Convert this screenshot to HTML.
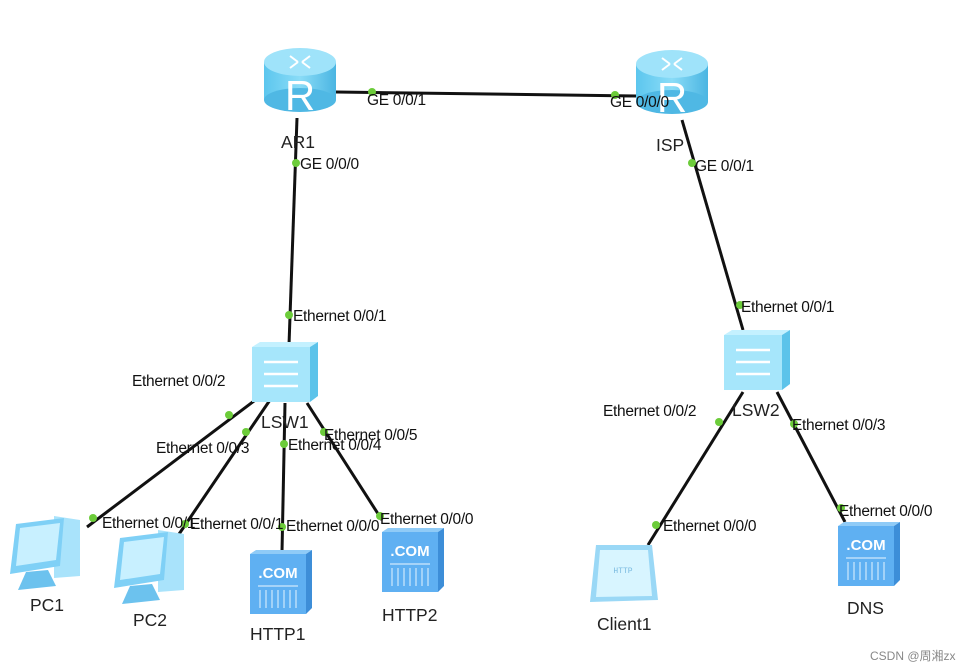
<!DOCTYPE html>
<html><head><meta charset="utf-8"><style>
html,body{margin:0;padding:0;background:#fff;}
svg{display:block;font-family:"Liberation Sans",Arial,sans-serif;}
.l{font-size:15.5px;fill:#111;letter-spacing:-0.3px;}
.n{font-size:17.5px;fill:#222;}
</style></head><body>
<svg width="977" height="671" viewBox="0 0 977 671">
<defs>
<linearGradient id="rg" x1="0" x2="1"><stop offset="0" stop-color="#5cc6ee"/><stop offset="0.5" stop-color="#8adcf7"/><stop offset="1" stop-color="#4bb5e2"/></linearGradient>
<g id="router">
<rect x="-36" y="-22" width="72" height="38" fill="url(#rg)"/>
<ellipse cx="0" cy="16" rx="36" ry="12" fill="#4fb8e4"/>
<ellipse cx="0" cy="-22" rx="36" ry="14" fill="#9fe3fa"/>
<text x="0" y="26" text-anchor="middle" font-size="42" fill="#fff">R</text>
<path d="M-10 -28 l8 6 M10 -28 l-8 6 M-10 -16 l8 -6 M10 -16 l-8 -6" stroke="#fff" stroke-width="2"/>
</g>
<g id="switch">
<rect x="0" y="5" width="58" height="55" fill="#a6e6fb"/>
<path d="M0 5 L8 0 L66 0 L58 5Z" fill="#c4f1ff"/>
<path d="M58 5 L66 0 L66 54 L58 60Z" fill="#5cc3ea"/>
<path d="M12 20 H46 M12 32 H46 M12 44 H46" stroke="#fff" stroke-width="2.5"/>
</g>
<g id="server">
<rect x="0" y="4" width="56" height="60" fill="#5fb0f2"/>
<path d="M0 4 L6 0 L62 0 L56 4Z" fill="#8fcbf7"/>
<path d="M56 4 L62 0 L62 58 L56 64Z" fill="#3d8ed8"/>
<text x="28" y="28" text-anchor="middle" font-size="15" font-weight="bold" fill="#fff">.COM</text>
<path d="M8 36 H48 M10 40 V58 M16 40 V58 M22 40 V58 M28 40 V58 M34 40 V58 M40 40 V58 M46 40 V58" stroke="#cfe8fc" stroke-width="1.2"/>
</g>
<g id="pc">
<path d="M46 0 L72 4 L72 60 L46 62Z" fill="#a9e3fb"/>
<path d="M8 8 L56 2 L52 50 L2 58Z" fill="#7fd0f6"/>
<path d="M12 12 L52 7 L48 44 L8 50Z" fill="#c8f0ff"/>
<path d="M18 56 L40 54 L48 70 L10 74Z" fill="#6cc2ee"/>
</g>
</defs>

<g stroke="#111" stroke-width="3" fill="none">
<line x1="336" y1="92" x2="636" y2="96"/>
<line x1="297" y1="118" x2="289" y2="345"/>
<line x1="682" y1="120" x2="743" y2="330"/>
<line x1="258" y1="398" x2="87" y2="527"/>
<line x1="270" y1="400" x2="175" y2="540"/>
<line x1="285" y1="403" x2="282" y2="552"/>
<line x1="307" y1="403" x2="382" y2="520"/>
<line x1="743" y1="392" x2="648" y2="545"/>
<line x1="777" y1="392" x2="845" y2="522"/>
</g>

<use href="#router" x="300" y="84"/>
<use href="#router" x="672" y="86"/>
<use href="#switch" x="252" y="342"/>
<use href="#switch" x="724" y="330"/>
<use href="#pc" x="8" y="516"/>
<use href="#pc" x="112" y="530"/>
<use href="#server" x="250" y="550"/>
<use href="#server" x="382" y="528"/>
<use href="#server" x="838" y="522"/>
<g>
<path d="M596 545 L652 545 L658 600 L590 602Z" fill="#9ad8f6"/>
<path d="M600 550 L648 550 L652 596 L596 597Z" fill="#d8f5ff"/>
<text x="623" y="573" text-anchor="middle" font-size="8" fill="#7bbbe0" font-family="Liberation Mono">HTTP</text>
</g>

<g fill="#6ccc3a">
<circle cx="372" cy="92" r="4"/><circle cx="615" cy="95" r="4"/>
<circle cx="296" cy="163" r="4"/><circle cx="289" cy="315" r="4"/>
<circle cx="692" cy="163" r="4"/><circle cx="740" cy="305" r="4"/>
<circle cx="229" cy="415" r="4"/><circle cx="93" cy="518" r="4"/>
<circle cx="246" cy="432" r="4"/><circle cx="185" cy="524" r="4"/>
<circle cx="284" cy="444" r="4"/><circle cx="282" cy="527" r="4"/>
<circle cx="324" cy="432" r="4"/><circle cx="380" cy="516" r="4"/>
<circle cx="719" cy="422" r="4"/><circle cx="656" cy="525" r="4"/>
<circle cx="794" cy="424" r="4"/><circle cx="841" cy="508" r="4"/>
</g>

<g class="l">
<text x="367" y="105">GE 0/0/1</text>
<text x="610" y="107">GE 0/0/0</text>
<text x="300" y="169">GE 0/0/0</text>
<text x="695" y="171">GE 0/0/1</text>
<text x="293" y="321">Ethernet 0/0/1</text>
<text x="741" y="312">Ethernet 0/0/1</text>
<text x="132" y="386">Ethernet 0/0/2</text>
<text x="156" y="453">Ethernet 0/0/3</text>
<text x="288" y="450">Ethernet 0/0/4</text>
<text x="324" y="440">Ethernet 0/0/5</text>
<text x="102" y="528">Ethernet 0/0/1</text>
<text x="190" y="529">Ethernet 0/0/1</text>
<text x="286" y="531">Ethernet 0/0/0</text>
<text x="380" y="524">Ethernet 0/0/0</text>
<text x="603" y="416">Ethernet 0/0/2</text>
<text x="792" y="430">Ethernet 0/0/3</text>
<text x="663" y="531">Ethernet 0/0/0</text>
<text x="839" y="516">Ethernet 0/0/0</text>
</g>
<g class="n">
<text x="281" y="148">AR1</text>
<text x="656" y="151">ISP</text>
<text x="261" y="428">LSW1</text>
<text x="732" y="416">LSW2</text>
<text x="30" y="611">PC1</text>
<text x="133" y="626">PC2</text>
<text x="250" y="640">HTTP1</text>
<text x="382" y="621">HTTP2</text>
<text x="597" y="630">Client1</text>
<text x="847" y="614">DNS</text>
</g>
<text x="870" y="660" font-size="12" fill="#888" font-family="Liberation Sans, Noto Sans CJK SC, sans-serif">CSDN @周湘zx</text>
</svg>
</body></html>
